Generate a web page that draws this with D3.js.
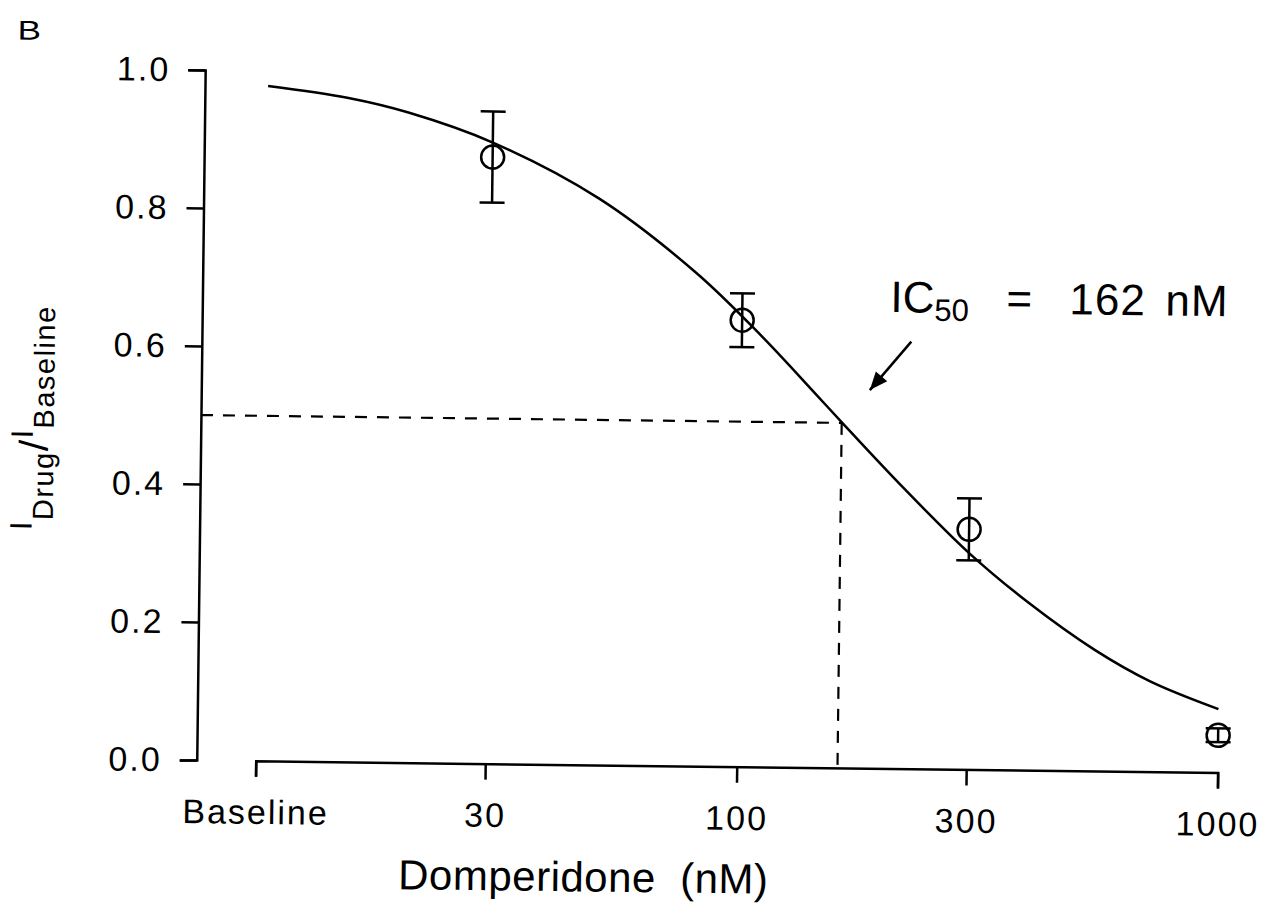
<!DOCTYPE html>
<html>
<head>
<meta charset="utf-8">
<script src="https://cdn.jsdelivr.net/npm/d3@7"></script>
<style>
  html, body { margin: 0; padding: 0; background: #fff; }
  svg { display: block; }
  text { font-family: "Liberation Sans", Arial, Helvetica, sans-serif; fill: #000; }
</style>
</head>
<body>
<svg id="chart" width="1267" height="923"></svg>
<script>
// Dose axis: "Baseline" sits at the 10 nM position of the log scale
const doseTicks = [10, 30, 100, 300, 1000];
const doseTickLabels = ["Baseline", "30", "100", "300", "1000"];
const ratioTicks = [0.0, 0.2, 0.4, 0.6, 0.8, 1.0];

// Measured current ratio (mean ± SEM) at each domperidone concentration
const doseNM = [30, 100, 300, 1000];
const meanRatio = [0.879, 0.647, 0.348, 0.054];
const semRatio = [0.066, 0.039, 0.045, 0.010];

// Fitted concentration–response curve, sampled along the dose axis
const fitDose = [10.2, 15, 20, 30, 50, 80, 110, 143, 163, 215, 300, 400, 550, 720, 1000];
const fitRatio = [0.978, 0.962, 0.942, 0.900, 0.821, 0.715, 0.624, 0.541, 0.499, 0.412, 0.314, 0.243, 0.176, 0.131, 0.092];

const ic50 = 162;
const halfRatio = 0.5;

const svg = d3.select("#chart");
svg.append("rect").attr("width", 1267).attr("height", 923).attr("fill", "#fff");

// whole panel is drawn slightly tilted, as on the printed page
const root = svg.append("g").attr("transform", "rotate(0.7, 634, 415)");

const x = d3.scaleLog().domain([10, 1000]).range([260, 1222]);
const y = d3.scaleLinear().domain([0, 1]).range([765.4, 75.3]);
const axisX = 201;

const ink = "#000";
const lw = 2.5;
const font = '"Liberation Sans", Arial, sans-serif';

// Y axis
const yAxis = d3.axisLeft(y)
  .tickValues(ratioTicks)
  .tickFormat(d3.format(".1f"))
  .tickSize(17)
  .tickSizeOuter(17)
  .tickPadding(18);
const gy = root.append("g").attr("transform", `translate(${axisX},0)`).call(yAxis);
gy.selectAll("path, line").attr("stroke", ink).attr("stroke-width", lw);
gy.selectAll("text")
  .attr("font-size", 34)
  .attr("letter-spacing", "2px")
  .attr("font-family", font);

// X axis (separate baseline starting at the "Baseline" tick)
const xAxis = d3.axisBottom(x)
  .tickValues(doseTicks)
  .tickFormat((d, i) => doseTickLabels[i])
  .tickSize(16)
  .tickSizeOuter(16)
  .tickPadding(23);
const gx = root.append("g").attr("transform", `translate(0,${y(0)})`).call(xAxis);
gx.selectAll("path, line").attr("stroke", ink).attr("stroke-width", lw);
gx.selectAll("text")
  .attr("font-size", 34)
  .attr("letter-spacing", "2px")
  .attr("font-family", font);

// IC50 guide lines
const dash = "12,10";
root.append("line")
  .attr("x1", axisX).attr("x2", x(ic50))
  .attr("y1", y(halfRatio)).attr("y2", y(halfRatio))
  .attr("stroke", ink).attr("stroke-width", 2.2).attr("stroke-dasharray", dash);
root.append("line")
  .attr("x1", x(ic50)).attr("x2", x(ic50))
  .attr("y1", y(halfRatio)).attr("y2", y(0))
  .attr("stroke", ink).attr("stroke-width", 2.2).attr("stroke-dasharray", dash);

// Fitted curve
const fit = fitDose.map((d, i) => ({ d, v: fitRatio[i] }));
root.append("path")
  .datum(fit)
  .attr("fill", "none")
  .attr("stroke", ink)
  .attr("stroke-width", lw)
  .attr("stroke-linejoin", "round")
  .attr("d", d3.line().x(p => x(p.d)).y(p => y(p.v)).curve(d3.curveCatmullRom.alpha(0.5)));

// Data points with error bars
const pts = doseNM.map((d, i) => ({ d, m: meanRatio[i], e: semRatio[i] }));
const capHalf = 12.5;
const gp = root.append("g").attr("stroke", ink).attr("stroke-width", lw).attr("fill", "none");
const pg = gp.selectAll("g.pt").data(pts).join("g").attr("class", "pt");
pg.append("line")
  .attr("x1", p => x(p.d)).attr("x2", p => x(p.d))
  .attr("y1", p => y(p.m + p.e)).attr("y2", p => y(p.m - p.e));
pg.append("line")
  .attr("x1", p => x(p.d) - capHalf).attr("x2", p => x(p.d) + capHalf)
  .attr("y1", p => y(p.m + p.e)).attr("y2", p => y(p.m + p.e));
pg.append("line")
  .attr("x1", p => x(p.d) - capHalf).attr("x2", p => x(p.d) + capHalf)
  .attr("y1", p => y(p.m - p.e)).attr("y2", p => y(p.m - p.e));
pg.append("circle")
  .attr("cx", p => x(p.d)).attr("cy", p => y(p.m)).attr("r", 11.5);

// IC50 annotation: arrow pointing at the curve
const tail = [x(225), y(0.619)];
const tip = [x(185), y(0.548)];
root.append("line")
  .attr("x1", tail[0]).attr("y1", tail[1])
  .attr("x2", tip[0]).attr("y2", tip[1])
  .attr("stroke", ink).attr("stroke-width", 2.5);
{
  const ang = Math.atan2(tip[1] - tail[1], tip[0] - tail[0]);
  const len = 18, half = 7.5;
  const bx = tip[0] - len * Math.cos(ang), by = tip[1] - len * Math.sin(ang);
  const px = -Math.sin(ang) * half, py = Math.cos(ang) * half;
  root.append("path")
    .attr("d", `M${tip[0]},${tip[1]} L${bx + px},${by + py} L${bx - px},${by - py} Z`)
    .attr("fill", ink);
}

const lab = root.append("text")
  .attr("x", 889).attr("y", 309)
  .attr("font-size", 44);
lab.append("tspan").text("IC");
lab.append("tspan").attr("font-size", 31).attr("dy", 8).text("50");
lab.append("tspan").attr("x", 1005).attr("dy", -8).text("=");
lab.append("tspan").attr("x", 1068).attr("letter-spacing", "1px").text("162");
lab.append("tspan").attr("x", 1164).attr("letter-spacing", "1px").text("nM");

// Axis titles
root.append("text")
  .attr("x", 589).attr("y", 892)
  .attr("text-anchor", "middle")
  .attr("font-size", 42)
  .attr("letter-spacing", "0.5px")
  .text("Domperidone\u00A0\u00A0(nM)");

const yt = root.append("text")
  .attr("transform", "translate(33,425) rotate(-90)")
  .attr("text-anchor", "middle")
  .attr("font-size", 31)
  .attr("letter-spacing", "1.5px");
yt.append("tspan").text("I");
yt.append("tspan").attr("font-size", 29).attr("dy", 21).text("Drug");
yt.append("tspan").attr("font-size", 40).attr("dy", -6).text("/");
yt.append("tspan").attr("dy", -15).text("I");
yt.append("tspan").attr("font-size", 29).attr("dy", 21).text("Baseline");

// Panel letter
root.append("text")
  .attr("transform", "translate(13,47) scale(1.3,1)")
  .attr("font-size", 27)
  .text("B");
</script>
</body>
</html>
